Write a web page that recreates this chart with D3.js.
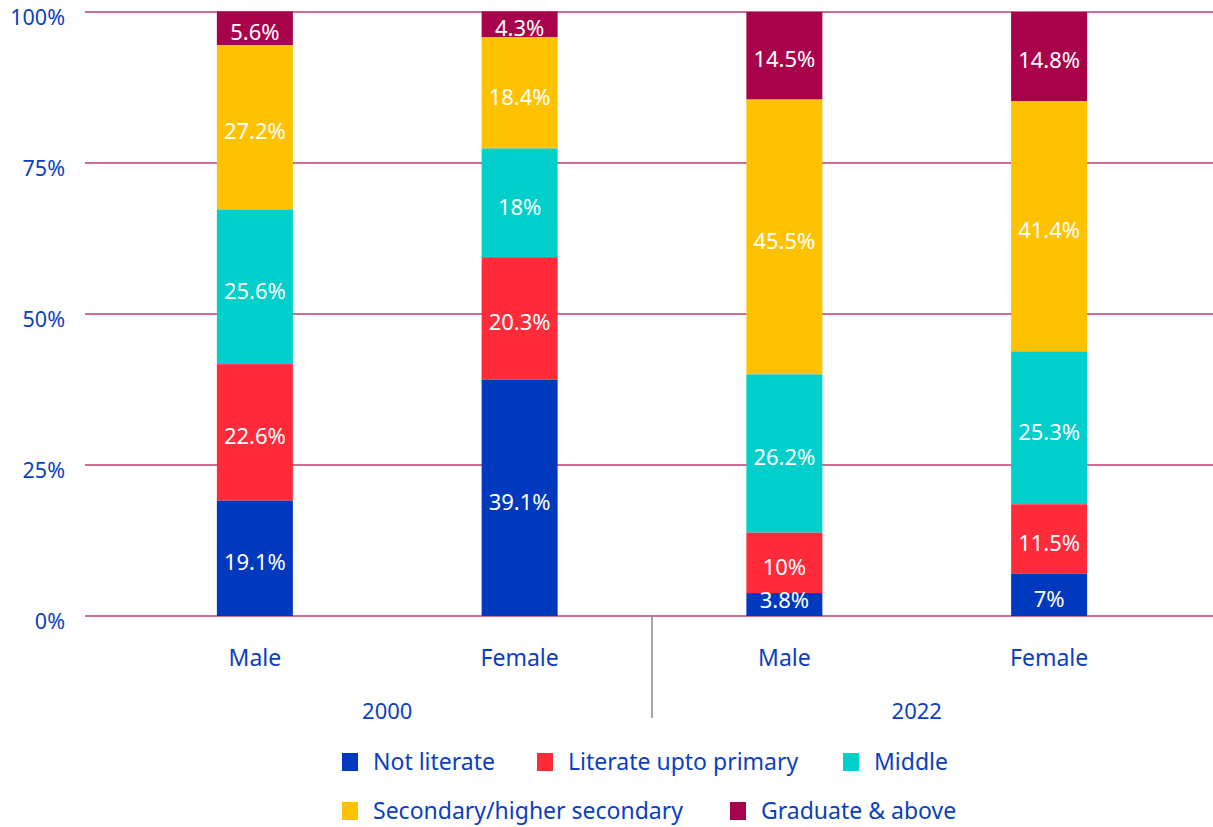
<!DOCTYPE html>
<html>
<head>
<meta charset="utf-8">
<script src="https://cdn.jsdelivr.net/npm/d3@7/dist/d3.min.js"></script>
<style>
  html, body { margin: 0; padding: 0; background: #fff; }
  svg { display: block; font-family: "Noto Sans", "Open Sans", sans-serif; }
</style>
</head>
<body>
<svg id="chart" width="1213" height="827"></svg>
<script>
// Education attainment by sex, 2000 vs 2022 (% of population)
const categories = ["Male", "Female", "Male", "Female"];
const groups = ["2000", "2000", "2022", "2022"];
const seriesNames = ["Not literate", "Literate upto primary", "Middle", "Secondary/higher secondary", "Graduate & above"];
const notLiterate = [19.1, 39.1, 3.8, 7];
const literatePrimary = [22.6, 20.3, 10, 11.5];
const middle = [25.6, 18, 26.2, 25.3];
const secondary = [27.2, 18.4, 45.5, 41.4];
const graduate = [5.6, 4.3, 14.5, 14.8];
const yTicks = [0, 25, 50, 75, 100];
const colors = ["#0039be", "#ff2a3a", "#00cfcc", "#ffc200", "#a8034a"];

const series = [notLiterate, literatePrimary, middle, secondary, graduate];
const rows = categories.map((c, i) => {
  const r = { idx: i };
  seriesNames.forEach((s, k) => { r[s] = series[k][i]; });
  return r;
});

const svg = d3.select("#chart");
const textColor = "#0b3fbf";

const x = d3.scaleBand().domain(d3.range(categories.length)).range([122.5, 1181.5]).padding(0);
const barW = 76;
const y = d3.scaleLinear().domain([0, 100]).range([616, 12]);

// grid lines
svg.append("g").selectAll("line").data(yTicks).join("line")
  .attr("x1", 85).attr("x2", 1213)
  .attr("y1", d => y(d)).attr("y2", d => y(d))
  .attr("stroke", "#bb3d74").attr("stroke-width", 1.4);

// y-axis labels
const yAxis = d3.axisLeft(y).tickValues(yTicks).tickFormat(d => d + "%").tickSize(0).tickPadding(0);
const yg = svg.append("g").attr("transform", "translate(65,6)").call(yAxis);
yg.select(".domain").remove();
yg.selectAll("text").attr("fill", textColor).style("font-size", "21.5px").style("font-family", "Noto Sans");

// stacked bars: top layer first, so lower segments (and their labels) paint over it
const stack = d3.stack().keys(seriesNames);
const stacked = stack(rows);

const layers = svg.append("g").selectAll("g").data(stacked.slice().reverse()).join("g")
  .attr("fill", d => colors[d.index]);

layers.selectAll("rect").data(d => d).join("rect")
  .attr("x", d => x(d.data.idx) + x.bandwidth() / 2 - barW / 2)
  .attr("width", barW)
  .attr("y", d => y(d[1]))
  .attr("height", d => y(d[0]) - y(d[1]));

// value labels, kept inside the plot area
const [plotBottom, plotTop] = y.range();
layers.selectAll("text").data(d => d).join("text")
  .attr("x", d => x(d.data.idx) + x.bandwidth() / 2)
  .attr("y", d => {
    const c = (y(d[0]) + y(d[1])) / 2 + 4;
    return Math.max(plotTop + 16, Math.min(plotBottom - 16, c));
  })
  .attr("dy", "0.35em")
  .attr("text-anchor", "middle")
  .attr("fill", "#fff")
  .style("font-size", "22px")
  .text(d => (d[1] - d[0]).toFixed(1).replace(/\.0$/, "") + "%");

// category labels
svg.append("g").selectAll("text").data(categories).join("text")
  .attr("x", (d, i) => x(i) + x.bandwidth() / 2)
  .attr("y", 658).attr("dy", "0.35em")
  .attr("text-anchor", "middle").attr("fill", textColor)
  .style("font-size", "23px").text(d => d);

// group labels
const groupNames = Array.from(new Set(groups));
svg.append("g").selectAll("text").data(groupNames).join("text")
  .attr("x", g => {
    const idx = d3.range(groups.length).filter(i => groups[i] === g);
    return (x(idx[0]) + x(idx[idx.length - 1]) + x.bandwidth()) / 2;
  })
  .attr("y", 711).attr("dy", "0.35em")
  .attr("text-anchor", "middle").attr("fill", textColor)
  .style("font-size", "22px").text(d => d);

// group separator
const sepX = x(2);
svg.append("line")
  .attr("x1", sepX).attr("x2", sepX).attr("y1", 616).attr("y2", 718)
  .attr("stroke", "#888").attr("stroke-width", 1.5);

// legend
const legendPos = [
  [342, 762], [537, 762], [843, 762],
  [342, 811], [730, 811]
];
const lg = svg.append("g").selectAll("g").data(seriesNames).join("g")
  .attr("transform", (d, i) => `translate(${legendPos[i][0]},${legendPos[i][1]})`);
lg.append("rect").attr("x", 0).attr("y", -9).attr("width", 16).attr("height", 18)
  .attr("fill", (d, i) => colors[i]);
lg.append("text").attr("x", 31).attr("y", 0).attr("dy", "0.35em")
  .attr("fill", textColor).style("font-size", "23px").text(d => d);
</script>
</body>
</html>
